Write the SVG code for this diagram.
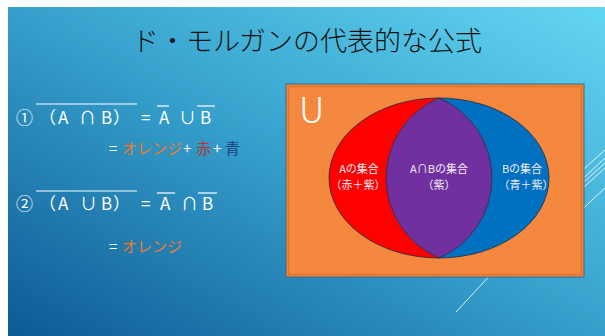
<svg xmlns="http://www.w3.org/2000/svg" width="605" height="336" viewBox="0 0 605 336">
<defs>
<linearGradient id="bg" x1="1" y1="0" x2="0" y2="1">
<stop offset="0" stop-color="#63D6F2"/>
<stop offset="0.45" stop-color="#3AA6D0"/>
<stop offset="1" stop-color="#0D5A95"/>
</linearGradient>
<style>
.t{font-family:"Noto Sans CJK JP","Noto Sans",sans-serif;}
.f{font-size:17px;fill:#ffffff;}
.s{font-size:15px;fill:#ffffff;}
.ov{stroke:#ffffff;stroke-width:1.2;fill:none;}
.deco{stroke:#ffffff;stroke-width:1;opacity:0.85;}
.lbl{font-size:11px;fill:#f5eef8;text-anchor:middle;}
</style>
</defs>
<rect width="605" height="336" fill="#ffffff"/>
<rect x="8" y="7" width="597" height="329" fill="url(#bg)"/>
<g id="deco">
<line class="deco" x1="575" y1="177" x2="605" y2="150"/>
<line class="deco" x1="575" y1="186" x2="605" y2="158"/>
<line class="deco" x1="575" y1="190" x2="605" y2="163"/>
<line class="deco" x1="575" y1="195" x2="605" y2="168"/>
<line class="deco" x1="575" y1="216" x2="605" y2="188"/>
<line class="deco" x1="495" y1="270" x2="456" y2="312"/>
</g>
<text class="t" x="307" y="51" font-size="27" font-weight="300" text-anchor="middle" fill="#111">ド・モルガンの代表的な公式</text>
<g id="formula1" class="t f">
<text x="16" y="124">①</text>
<text x="39" y="124">（</text>
<text x="58" y="124">A</text>
<text x="79" y="124">∩</text>
<text x="101" y="124">B</text>
<text x="113" y="124">）</text>
<text x="141" y="124">=</text>
<text x="159" y="124">A</text>
<text x="179" y="124">∪</text>
<text x="200" y="124">B</text>
<line class="ov" x1="36" y1="104" x2="137" y2="104"/>
<line class="ov" x1="157" y1="106" x2="169" y2="106"/>
<line class="ov" x1="197" y1="106" x2="215" y2="106"/>
</g>
<g id="formula1b" class="t s">
<text x="109" y="154">=</text>
<text x="122" y="154" fill="#F07A2A">オレンジ</text>
<text x="183" y="154">+</text>
<text x="196" y="154" fill="#C0302A">赤</text>
<text x="213" y="154">+</text>
<text x="225" y="154" fill="#1C3F7E">青</text>
</g>
<g id="formula2" class="t f">
<text x="16" y="210">②</text>
<text x="39" y="210">（</text>
<text x="58" y="210">A</text>
<text x="80" y="210">∪</text>
<text x="101" y="210">B</text>
<text x="113" y="210">）</text>
<text x="141" y="210">=</text>
<text x="160" y="210">A</text>
<text x="181" y="210">∩</text>
<text x="202" y="210">B</text>
<line class="ov" x1="36" y1="191" x2="137" y2="191"/>
<line class="ov" x1="157" y1="193" x2="175" y2="193"/>
<line class="ov" x1="198" y1="193" x2="217" y2="193"/>
</g>
<g id="formula2b" class="t s">
<text x="109" y="252">=</text>
<text x="122" y="252" fill="#F07A2A">オレンジ</text>
</g>
<g id="universe">
<rect x="286" y="84" width="298" height="193" fill="#F5883F" stroke="#3F6684" stroke-width="1"/>
<rect x="288.5" y="86.5" width="293" height="188" fill="none" stroke="#E2722C" stroke-width="1.5"/>
<text class="t" x="299" y="123" font-size="36" font-weight="300" fill="#ffffff">U</text>
</g>
<g id="setA">
<path d="M439,98 A110,80 0 0 0 439,258 A87,87 0 0 1 439,98 Z" fill="#FF0000"/>
</g>
<g id="setB">
<path d="M439,98 A110,80 0 0 1 439,258 A87,87 0 0 0 439,98 Z" fill="#0070C0"/>
</g>
<g id="intersection">
<path d="M439,98 A87,87 0 0 0 439,258 A87,87 0 0 0 439,98 Z" fill="#7030A0" stroke="#1F2A44" stroke-width="0.8"/>
</g>
<g id="outline">
<ellipse cx="439" cy="178" rx="110" ry="80" fill="none" stroke="#1F2A44" stroke-width="0.8"/>
</g>
<g id="labels" class="t lbl">
<text x="359" y="173">Aの集合</text>
<text x="358" y="189">（赤＋紫）</text>
<text x="439" y="173">A∩Bの集合</text>
<text x="439" y="189">（紫）</text>
<text x="522" y="173">Bの集合</text>
<text x="526" y="189">（青＋紫）</text>
</g>
</svg>
